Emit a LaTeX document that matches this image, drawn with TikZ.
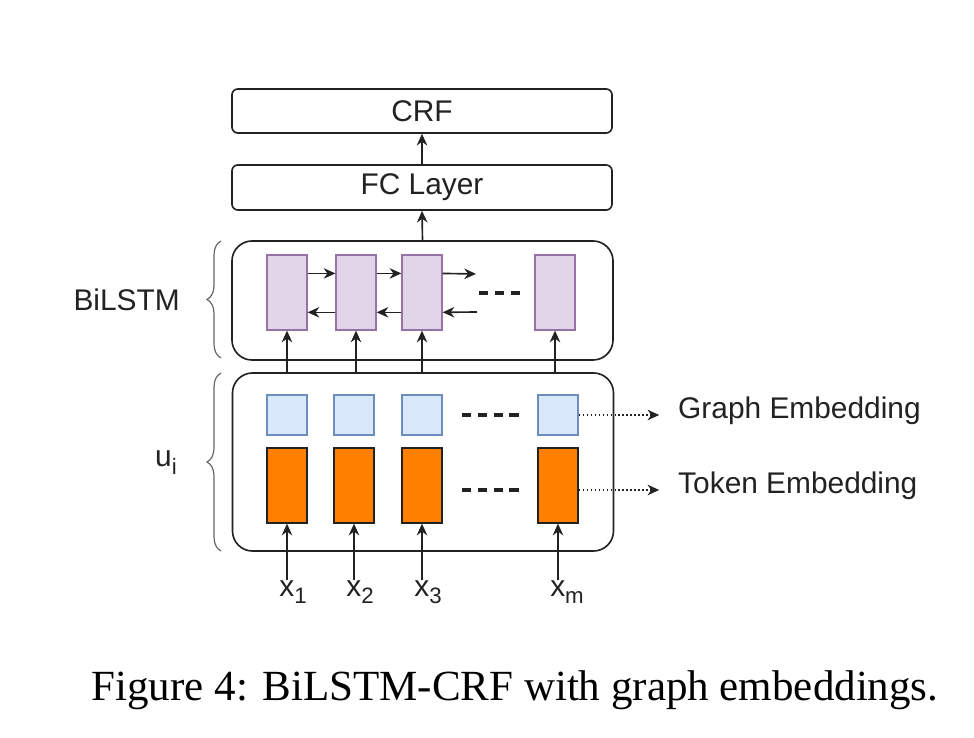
\documentclass[tikz,border=0pt]{standalone}
\usepackage{fontspec}
\setmainfont{Liberation Sans}
\newfontfamily\capfont{Liberation Serif}
\usetikzlibrary{arrows.meta,calc,decorations.pathreplacing}
\definecolor{lstmfill}{HTML}{E1D5E7}
\definecolor{lstmline}{HTML}{9673A6}
\definecolor{graphfill}{HTML}{DAE8FC}
\definecolor{graphline}{HTML}{6C8EBF}
\definecolor{tokfill}{HTML}{FF8000}
\definecolor{ink}{HTML}{222222}
\newcommand\lowidx[1]{\raisebox{-0.5ex}{\fontsize{19}{19}\selectfont #1}}
\begin{document}
\begin{tikzpicture}[x=0.03cm,y=-0.03cm,
    font=\fontsize{25.5}{30}\selectfont, text=ink,
    layer/.style={draw=ink,line width=1.4pt,rounded corners=5pt,minimum width=11.4cm},
    outer/.style={draw=ink,line width=1.4pt,rounded corners=0.6cm,minimum width=11.43cm},
    lstm/.style={draw=lstmline,fill=lstmfill,line width=1.1pt,minimum width=1.2cm,minimum height=2.25cm},
    gemb/.style={draw=graphline,fill=graphfill,line width=1.1pt,minimum width=1.2cm,minimum height=1.2cm},
    temb/.style={draw=ink,fill=tokfill,line width=1.1pt,minimum width=1.2cm,minimum height=2.25cm},
    arr/.style={-{Stealth[length=10pt,width=9pt]},draw=ink,line width=1.4pt},
    dotarr/.style={-{Stealth[length=10pt,width=9pt]},draw=ink,line width=1.4pt,dotted,shorten >=16pt},
    gap/.style={draw=ink,line width=3pt,dash pattern=on 8pt off 5.5pt},
    brc/.style={draw=ink!70,line width=1pt,decorate,decoration={brace,amplitude=0.42cm}}]
\useasboundingbox (0,0) rectangle (974,738);
% top layers
\node[layer,minimum height=1.32cm] (crf) at (422,111) {CRF};
\node[layer,minimum height=1.35cm] (fc) at (422,187.5) {FC Layer};
\node[outer,minimum height=3.57cm] (bilstm) at (422.5,300.5) {};
\node[outer,minimum height=5.34cm] (ubox) at (423,462) {};
\draw[arr] (fc.north) -- (crf.south);
\draw[arr] (bilstm.north) -- (fc.south);
% BiLSTM cells
\node[lstm] (p1) at (287,292.5) {};
\node[lstm] (p2) at (356,292.5) {};
\node[lstm] (p3) at (422,292.5) {};
\node[lstm] (p4) at (555,292.5) {};
\foreach \a/\b in {p1/p2,p2/p3}{
  \draw[arr] ($(\a.north east)!0.25!(\a.south east)$) -- ($(\b.north west)!0.25!(\b.south west)$);
  \draw[arr] ($(\b.north west)!0.76!(\b.south west)$) -- ($(\a.north east)!0.76!(\a.south east)$);
}
\coordinate (fwd) at (476,274);
\coordinate (bwd) at (477,312);
\draw[arr] ($(p3.north east)!0.25!(p3.south east)$) -- (fwd);
\draw[arr] (bwd) -- ($(p3.north east)!0.76!(p3.south east)$);
\draw[gap] (479,293) -- (524,293);
% embeddings
\foreach \i/\x in {1/287,2/354,3/422,4/558}{
  \node[gemb] (g\i) at (\x,415) {};
  \node[temb] (t\i) at (\x,485.5) {};
}
\draw[gap] (462,415) -- (524,415);
\draw[gap] (462,490) -- (524,490);
\foreach \i in {1,2,3,4}
  \draw[arr] (ubox.north -| p\i) -- (p\i.south);
\node[anchor=west,inner sep=0] (glab) at (678,411) {Graph Embedding};
\node[anchor=west,inner sep=0] (tlab) at (678,486) {Token Embedding};
\draw[dotarr] (g4.east) -- (glab.west |- g4.east);
\draw[dotarr] (t4.east |- 0,490) -- (tlab.west |- 0,490);
% inputs
\node[anchor=north,inner sep=0] (x1) at (293,580) {x\lowidx{1}};
\node[anchor=north,inner sep=0] (x2) at (360,580) {x\lowidx{2}};
\node[anchor=north,inner sep=0] (x3) at (428,580) {x\lowidx{3}};
\node[anchor=north,inner sep=0] (xm) at (567,580) {x\lowidx{m}};
\foreach \i/\n in {1/x1,2/x2,3/x3,4/xm}
  \draw[arr] (\n.north -| t\i) -- (t\i.south);
% braces
\draw[brc] (221,358) -- (221,241);
\draw[brc] (221,551) -- (221,373);
\node[anchor=east,inner sep=0] (blab) at (180,300) {BiLSTM};
\node[anchor=east,inner sep=0] (ulab) at (177,463) {u\lowidx{i}};
% caption
\node[font=\capfont\fontsize{36.7}{44}\selectfont,text=black] (cap) at (515,690) {Figure 4: BiLSTM-CRF with graph embeddings.};
\end{tikzpicture}
\end{document}
